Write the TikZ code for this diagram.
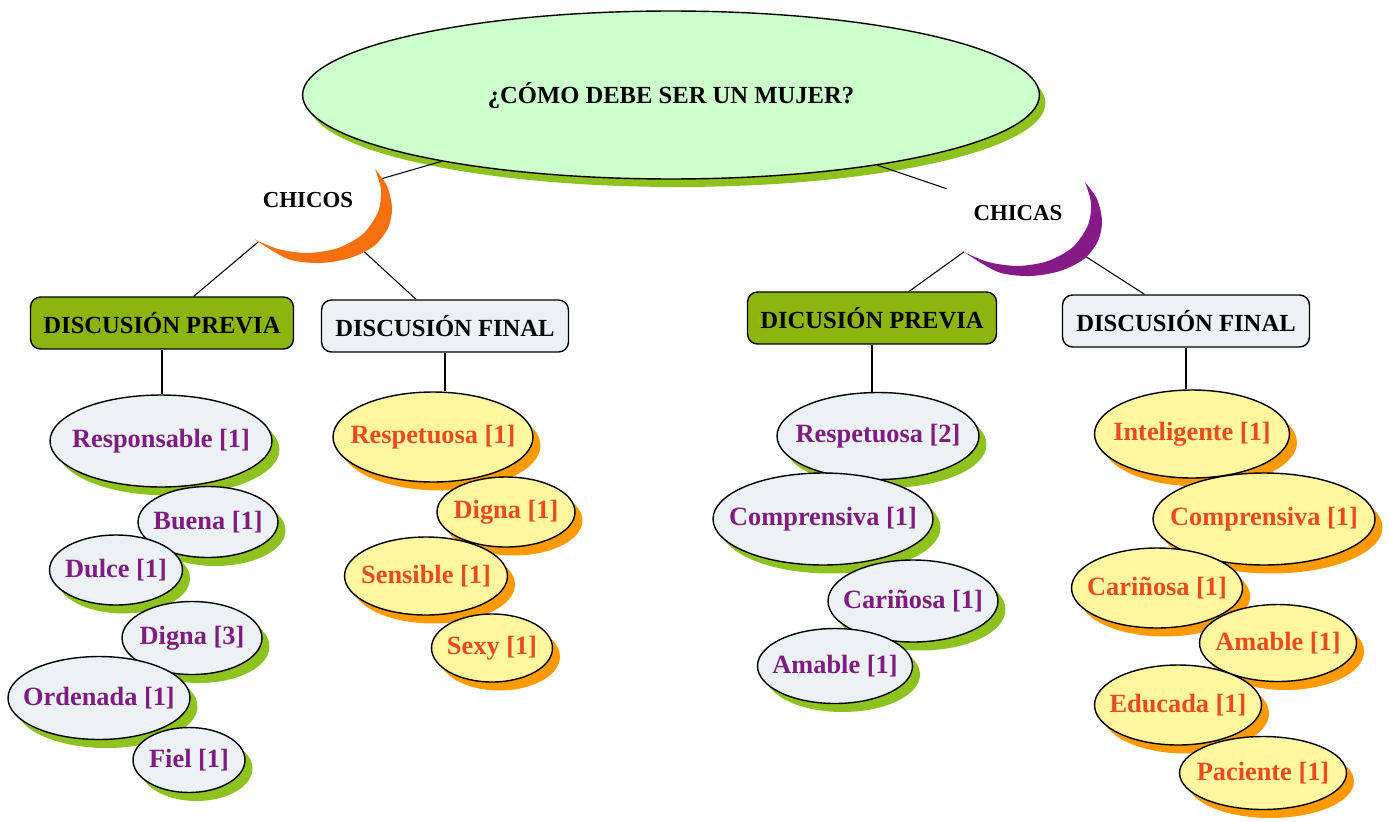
\documentclass[tikz,border=0pt]{standalone}
\usepackage{fontspec}
\setmainfont{Liberation Serif}
\usetikzlibrary{shapes.geometric,shadows}
\definecolor{mint}{HTML}{CCFFCC}
\definecolor{leaf}{HTML}{8DC21F}
\definecolor{moss}{HTML}{8CB50F}
\definecolor{mist}{HTML}{ECF1F4}
\definecolor{butter}{HTML}{FFF7A0}
\definecolor{amber}{HTML}{FF9A00}
\definecolor{tang}{HTML}{F7700F}
\definecolor{grape}{HTML}{861A87}
\definecolor{plum}{HTML}{7E1C80}
\definecolor{brick}{HTML}{EA4B1C}

\begin{document}
\begin{tikzpicture}[x=0.02cm, y=-0.02cm, line width=0.6pt,
    lbl/.style={font=\fontsize{14}{16}\selectfont\bfseries},
    sz/.style 2 args={minimum width=#1cm, minimum height=#2cm},
    topic/.style={ellipse, draw, line width=0.8pt, inner sep=0pt,
      font=\fontsize{15}{18}\selectfont\bfseries,
      execute at begin node={\hbox to 0pt\bgroup\hss},
      execute at end node={\hss\egroup}},
    prev/.style={topic, fill=mist, text=plum,
      drop shadow={fill=leaf, opacity=1, shadow xshift=0.15cm, shadow yshift=-0.17cm}},
    fin/.style={topic, fill=butter, text=brick,
      drop shadow={fill=amber, opacity=1, shadow xshift=0.15cm, shadow yshift=-0.17cm}},
    tag/.style={lbl, draw, rounded corners=2mm, line width=0.8pt, minimum height=1.04cm},
    side/.style={ellipse, sz={3.2}{2.08}, inner sep=0pt, font=\fontsize{13}{15}\selectfont\bfseries}]

  \useasboundingbox (0,0) rectangle (1388,821);

  \node[topic, lbl, fill=mint, sz={14.74}{3.36},
        drop shadow={fill=leaf, opacity=1, shadow xshift=0.12cm, shadow yshift=-0.16cm}]
        (title) at (671,95) {\raisebox{-3pt}{¿CÓMO DEBE SER UN MUJER?}};

  \node[side] (chicos) at (308,200) {CHICOS};
  \node[side] (chicas) at (1018,213) {CHICAS};

  \node[tag, fill=moss, minimum width=5.26cm] (dpl) at (162,323) {DISCUSIÓN PREVIA};
  \node[tag, fill=mist, minimum width=4.94cm] (dfl) at (445,326) {DISCUSIÓN FINAL};
  \node[tag, fill=moss, minimum width=4.98cm] (dpr) at (872,318) {DICUSIÓN PREVIA};
  \node[tag, fill=mist, minimum width=4.94cm] (dfr) at (1186,321) {DISCUSIÓN FINAL};

  \node[prev, sz={4.44}{1.84}] (respo) at (161,441) {Responsable [1]};
  \node[prev, sz={2.80}{1.42}] (buena) at (208,522) {Buena [1]};
  \node[prev, sz={2.66}{1.40}] (dulce) at (116,570) {Dulce [1]};
  \node[prev, sz={2.80}{1.46}] (dignaa) at (192,638) {Digna [3]};
  \node[prev, sz={3.64}{1.66}] (orden) at (99,698) {Ordenada [1]};
  \node[prev, sz={2.24}{1.30}] (fiel) at (189,760) {Fiel [1]};

  \node[fin, sz={4.00}{1.80}] (respa) at (433,437) {Respetuosa [1]};
  \node[fin, sz={2.76}{1.40}] (dignab) at (506,512) {Digna [1]};
  \node[fin, sz={3.26}{1.56}] (sensi) at (426,576) {Sensible [1]};
  \node[fin, sz={2.42}{1.36}] (sexy) at (492,648) {Sexy [1]};

  \node[prev, sz={4.04}{1.74}] (respb) at (878,436) {Respetuosa [2]};
  \node[prev, sz={4.40}{1.84}] (compa) at (823,519) {Comprensiva [1]};
  \node[prev, sz={3.40}{1.64}] (carina) at (913,601) {Cariñosa [1]};
  \node[prev, sz={3.10}{1.50}] (amaa) at (835,666) {Amable [1]};

  \node[fin, sz={3.90}{1.76}] (intel) at (1192,434) {Inteligente [1]};
  \node[fin, sz={4.44}{1.84}] (compb) at (1264,519) {Comprensiva [1]};
  \node[fin, sz={3.42}{1.60}] (carinb) at (1157,588) {Cariñosa [1]};
  \node[fin, sz={3.14}{1.54}] (amab) at (1278,643) {Amable [1]};
  \node[fin, sz={3.34}{1.60}] (educ) at (1178,705) {Educada [1]};
  \node[fin, sz={3.34}{1.46}] (paci) at (1263,773) {Paciente [1]};

  \draw (title) -- (chicos);
  \draw (title) -- (chicas);
  \draw (chicos) -- (dpl);
  \draw (chicos) -- (dfl);
  \draw (chicas) -- (dpr);
  \draw (chicas) -- (dfr);
  \draw (dpl.south) -- (dpl.south |- respo.north);
  \draw (dfl.south) -- (dfl.south |- respa.north);
  \draw (dpr.south) -- (dpr.south |- respb.north);
  \draw (dfr.south) -- (dfr.south |- intel.north);

  \fill[tang, shift={(chicos.center)}]
    plot[smooth] coordinates {(-54,39) (-30,49) (0,53) (30,48) (55,34) (70,12) (73,-10) (67,-31)}
    -- plot[smooth] coordinates {(67,-31) (79,-14) (84,8) (80,28) (66,46) (42,58) (12,63) (-20,59) (-54,39)} -- cycle;
  \fill[grape, shift={(chicas.center)}]
    plot[smooth] coordinates {(-54,39) (-30,49) (0,53) (30,48) (55,34) (70,12) (73,-10) (67,-31)}
    -- plot[smooth] coordinates {(67,-31) (79,-14) (84,8) (80,28) (66,46) (42,58) (12,63) (-20,59) (-54,39)} -- cycle;
\end{tikzpicture}
\end{document}
